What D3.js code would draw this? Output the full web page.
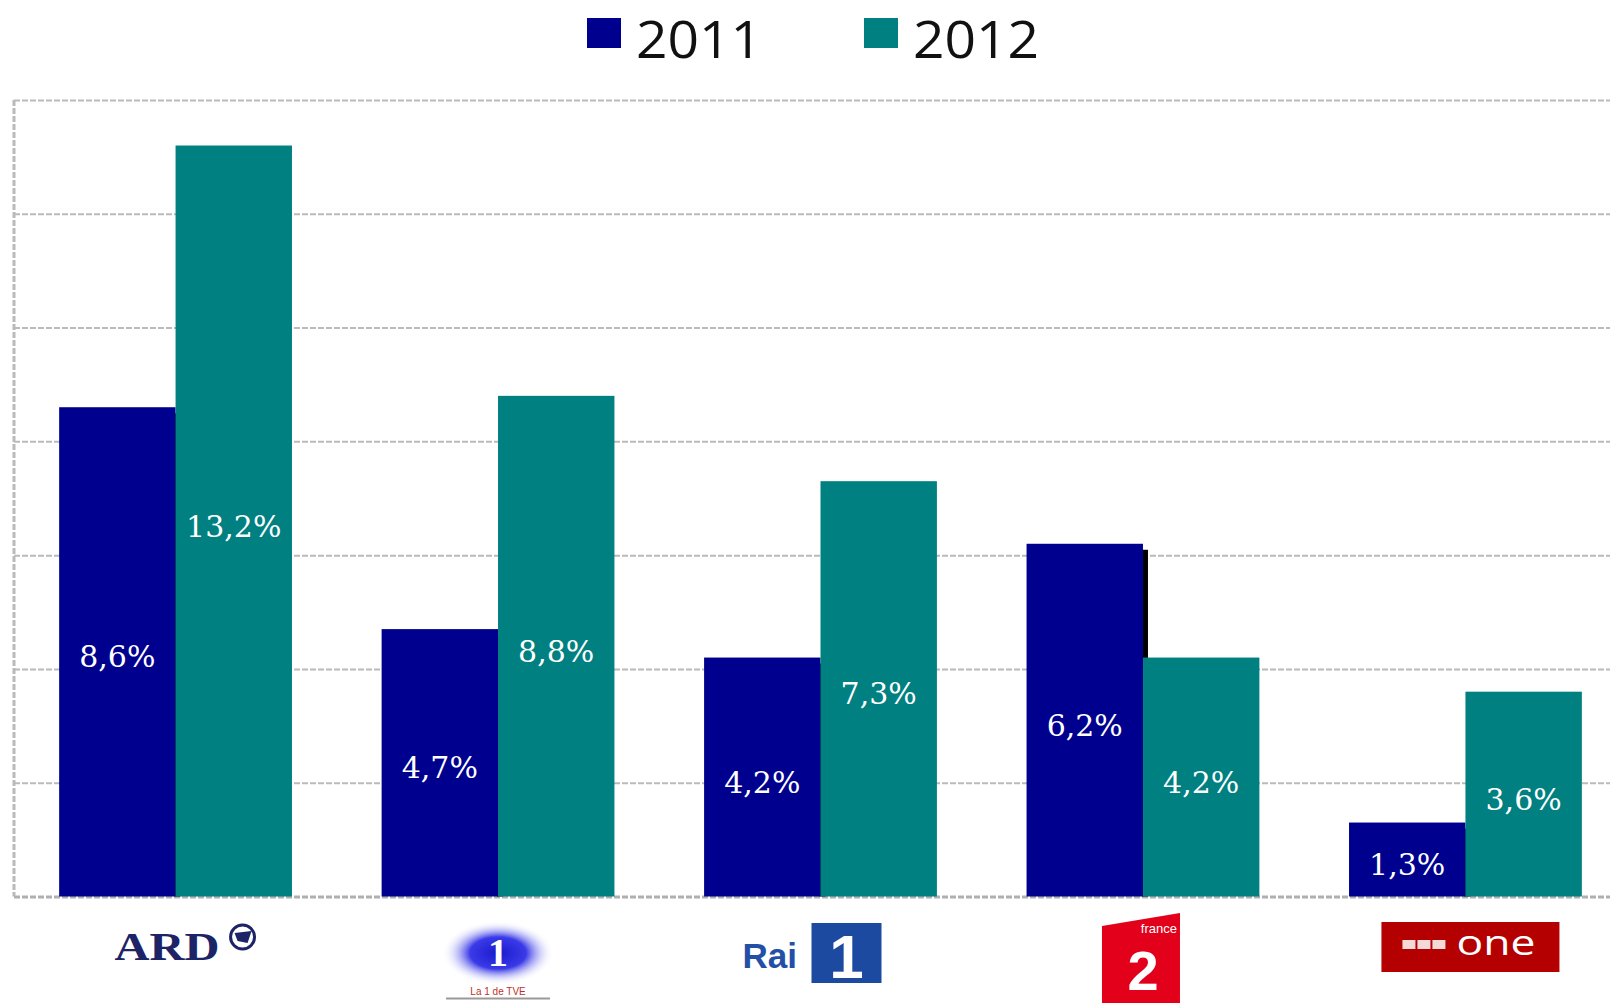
<!DOCTYPE html>
<html><head><meta charset="utf-8">
<script src="https://cdn.jsdelivr.net/npm/d3@7"></script>
<style>
html,body{margin:0;padding:0;background:#fff;overflow:hidden}
svg{display:block}
</style></head>
<body>
<svg id="chart" width="1610" height="1003"></svg>
<script>
const categories = ["ARD", "La 1", "Rai 1", "France 2", "BBC One"];
const series = ["2011", "2012"];
const values2011 = [8.6, 4.7, 4.2, 6.2, 1.3];
const values2012 = [13.2, 8.8, 7.3, 4.2, 3.6];
const labels2011 = ["8,6%", "4,7%", "4,2%", "6,2%", "1,3%"];
const labels2012 = ["13,2%", "8,8%", "7,3%", "4,2%", "3,6%"];
const yTicks = [0, 2, 4, 6, 8, 10, 12, 14];
const colors = {"2011": "#00008e", "2012": "#008080"};

const data = categories.map((c, i) => ({
  cat: c,
  vals: [
    {s: "2011", v: values2011[i], label: labels2011[i]},
    {s: "2012", v: values2012[i], label: labels2012[i]}
  ]
}));

const svg = d3.select("#chart");
const mLeft = 14, mRight = 1627, mTop = 100, mBottom = 896.5;

const x0 = d3.scaleBand().domain(categories).range([mLeft, mRight]).paddingInner(0.278).paddingOuter(0.14);
const x1 = d3.scaleBand().domain(series).range([0, x0.bandwidth()]).padding(0);
const y = d3.scaleLinear().domain([0, 14]).range([mBottom, mTop]);

// gridlines
const grid = svg.append("g").attr("transform", `translate(${mLeft},0)`)
  .call(d3.axisLeft(y).tickValues(yTicks).tickSize(-(mRight - mLeft)).tickFormat(""));
grid.select(".domain").remove();
grid.selectAll(".tick line")
  .attr("stroke", "#bababa").attr("stroke-width", 2).attr("stroke-dasharray", "6,2");
grid.selectAll(".tick").filter(d => d === 0).select("line").attr("stroke", "#b0b0b0").attr("stroke-width", 3);
// left frame
svg.append("line").attr("x1", mLeft).attr("x2", mLeft).attr("y1", y(14)).attr("y2", y(0))
  .attr("stroke", "#bababa").attr("stroke-width", 3).attr("stroke-dasharray", "6,2");

// bars
const groups = svg.append("g").selectAll("g").data(data).join("g")
  .attr("transform", d => `translate(${x0(d.cat)},0)`);

// shadow for 2011 bars
groups.append("rect")
  .attr("x", x1("2011") + x1.bandwidth() - 1)
  .attr("y", d => y(d.vals[0].v) + 6)
  .attr("width", 6)
  .attr("height", d => y(0) - y(d.vals[0].v) - 6)
  .attr("fill", "#000");

groups.selectAll("rect.bar").data(d => d.vals).join("rect").attr("class", "bar")
  .attr("x", d => x1(d.s))
  .attr("y", d => y(d.v))
  .attr("width", x1.bandwidth())
  .attr("height", d => y(0) - y(d.v))
  .attr("fill", d => colors[d.s]);

groups.selectAll("text.val").data(d => d.vals).join("text").attr("class", "val")
  .attr("x", d => x1(d.s) + x1.bandwidth() / 2)
  .attr("y", d => (y(d.v) + y(0)) / 2 + 5)
  .attr("text-anchor", "middle")
  .attr("dominant-baseline", "central")
  .attr("font-family", "DejaVu Serif")
  .attr("font-size", 30)
  .attr("fill", "#fff")
  .text(d => d.label);

// legend
const legendX = {"2011": 587, "2012": 864};
const lg = svg.append("g").selectAll("g").data(series).join("g")
  .attr("transform", d => `translate(${legendX[d]},18)`);
lg.append("rect").attr("width", 34).attr("height", 30).attr("fill", d => colors[d]);
lg.append("text").attr("x", 49).attr("y", 39.5)
  .attr("font-family", "Open Sans").attr("font-size", 51).attr("fill", "#111")
  .attr("textLength", 126).attr("lengthAdjust", "spacingAndGlyphs")
  .text(d => d);

// logos under x axis
const logos = svg.append("g");
const cx = c => x0(c) + x0.bandwidth() / 2;

// ARD
(function(){
  const c = cx("ARD");
  const g = logos.append("g").attr("transform", `translate(${c},0)`);
  g.append("text").attr("x", -61).attr("y", 960)
    .attr("font-family", "Liberation Serif").attr("font-weight", "bold").attr("font-size", 41)
    .attr("textLength", 105).attr("lengthAdjust", "spacingAndGlyphs")
    .attr("fill", "#1c2366").text("ARD");
  g.append("circle").attr("cx", 67).attr("cy", 937).attr("r", 12)
    .attr("fill", "#fff").attr("stroke", "#1c2366").attr("stroke-width", 3);
  g.append("path").attr("d", "M59,933 L76,931 L72,943 L62,941 Z").attr("fill", "#1c2366");
})();

// La 1 TVE
(function(){
  const c = cx("La 1");
  const defs = svg.append("defs");
  const rg = defs.append("radialGradient").attr("id", "tveg");
  rg.append("stop").attr("offset", "0%").attr("stop-color", "#1a1acc");
  rg.append("stop").attr("offset", "50%").attr("stop-color", "#3a3ae8");
  rg.append("stop").attr("offset", "100%").attr("stop-color", "#ffffff").attr("stop-opacity", 0);
  const g = logos.append("g").attr("transform", `translate(${c},0)`);
  g.append("ellipse").attr("cx", 0).attr("cy", 953).attr("rx", 56).attr("ry", 32).attr("fill", "url(#tveg)");
  g.append("text").attr("x", 0).attr("y", 966).attr("text-anchor", "middle")
    .attr("font-family", "Liberation Serif").attr("font-weight", "bold").attr("font-size", 40)
    .attr("fill", "#fff").text("1");
  g.append("text").attr("x", 0).attr("y", 995).attr("text-anchor", "middle")
    .attr("font-family", "Liberation Sans").attr("font-size", 10)
    .attr("fill", "#c0302a").text("La 1 de TVE");
  g.append("line").attr("x1", -52).attr("x2", 52).attr("y1", 998.5).attr("y2", 998.5)
    .attr("stroke", "#999").attr("stroke-width", 2);
})();

// Rai 1
(function(){
  const c = cx("Rai 1");
  const g = logos.append("g").attr("transform", `translate(${c},0)`);
  g.append("text").attr("x", -78).attr("y", 968)
    .attr("font-family", "Liberation Sans").attr("font-weight", "bold").attr("font-size", 35)
    .attr("fill", "#2350a6").text("Rai");
  g.append("rect").attr("x", -9).attr("y", 923).attr("width", 70).attr("height", 60).attr("fill", "#1c4aa0");
  g.append("text").attr("x", 26).attr("y", 978).attr("text-anchor", "middle")
    .attr("font-family", "Liberation Sans").attr("font-weight", "bold").attr("font-size", 62)
    .attr("fill", "#fff").text("1");
})();

// France 2
(function(){
  const c = cx("France 2");
  const g = logos.append("g").attr("transform", `translate(${c},0)`);
  g.append("path").attr("d", "M-41,926 L37,913 L37,1003 L-41,1003 Z").attr("fill", "#e3001b");
  g.append("text").attr("x", 34).attr("y", 933).attr("text-anchor", "end")
    .attr("font-family", "Liberation Sans").attr("font-size", 13)
    .attr("fill", "#fff").text("france");
  g.append("text").attr("x", 0).attr("y", 990).attr("text-anchor", "middle")
    .attr("font-family", "Liberation Sans").attr("font-weight", "bold").attr("font-size", 56)
    .attr("fill", "#fff").text("2");
})();

// BBC One
(function(){
  const c = cx("BBC One");
  const g = logos.append("g").attr("transform", `translate(${c},0)`);
  g.append("rect").attr("x", -84).attr("y", 922).attr("width", 178).attr("height", 50).attr("fill", "#b40000");
  [0, 1, 2].forEach(i => {
    g.append("rect").attr("x", -63 + i * 15).attr("y", 940).attr("width", 13).attr("height", 9)
      .attr("fill", "#fff").attr("opacity", 0.85);
  });
  g.append("text").attr("x", -9).attr("y", 955)
    .attr("font-family", "Open Sans").attr("font-size", 34).attr("textLength", 79)
    .attr("lengthAdjust", "spacingAndGlyphs")
    .attr("fill", "#fff").text("one");
})();
</script>
</body></html>
